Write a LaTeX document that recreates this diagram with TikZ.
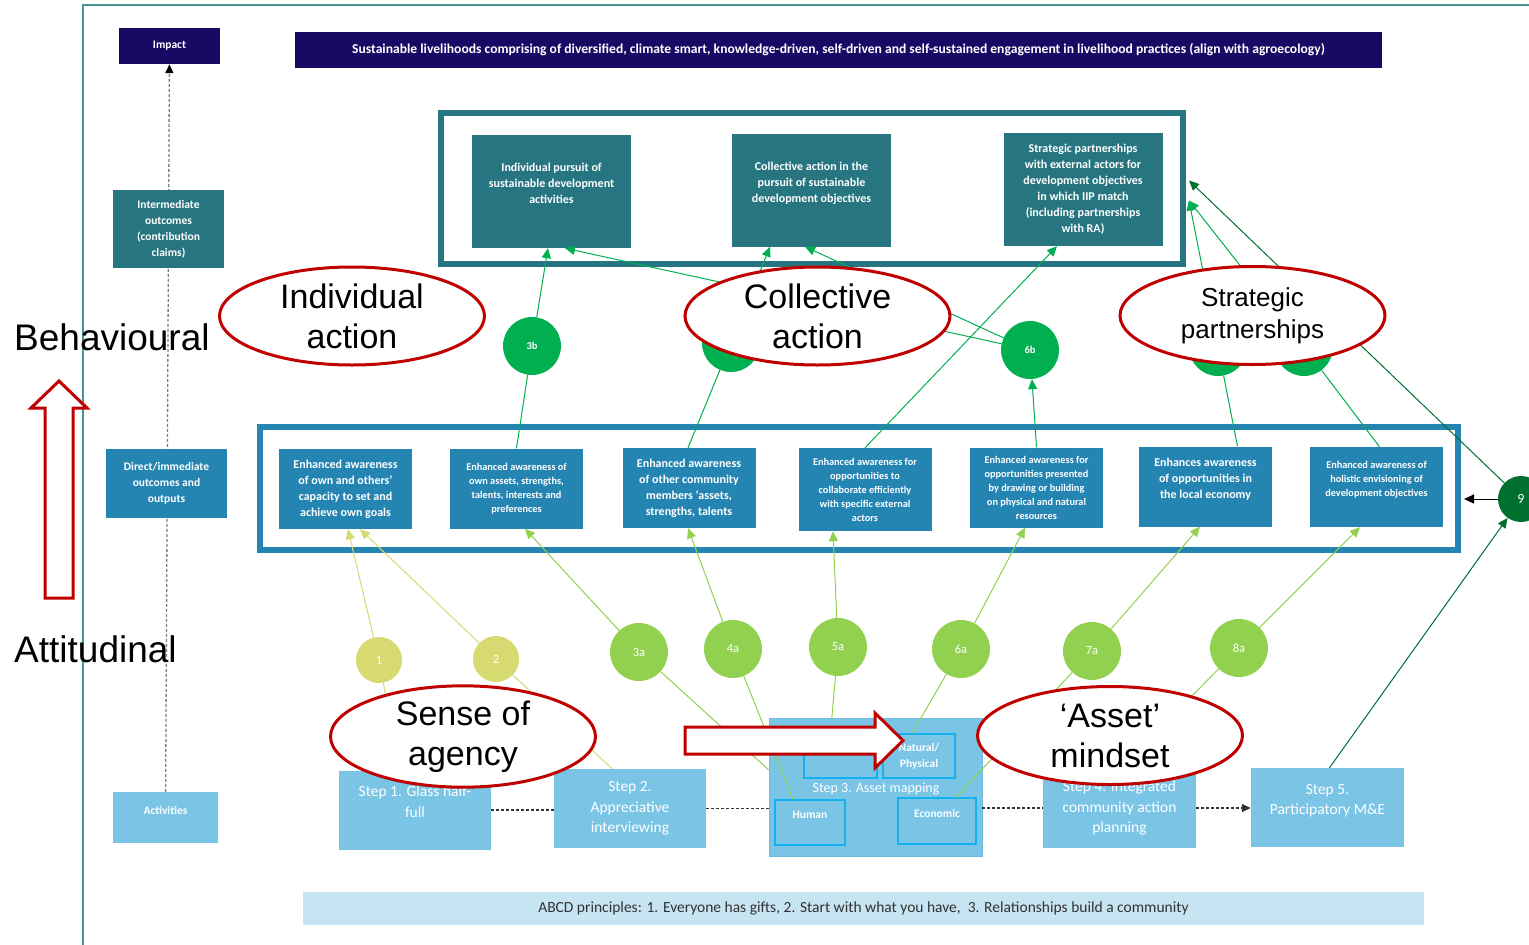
\documentclass[tikz,border=0pt]{standalone}
\usepackage{fontspec}
\setmainfont{Carlito}
\newfontfamily\arialfont{Liberation Sans}
\usetikzlibrary{arrows.meta,shapes.geometric}

\definecolor{iipnavy}{RGB}{23,10,100}
\definecolor{iipteal}{RGB}{38,117,128}
\definecolor{iipblue}{RGB}{37,133,178}
\definecolor{iiplight}{RGB}{122,196,230}
\definecolor{iipcyan}{RGB}{20,176,240}
\definecolor{iippale}{RGB}{198,228,242}
\definecolor{iipyellow}{RGB}{215,217,113}
\definecolor{iiplime}{RGB}{146,208,80}
\definecolor{iipgreen}{RGB}{0,176,80}
\definecolor{iipdark}{RGB}{0,112,47}
\definecolor{iipred}{RGB}{192,0,0}
\definecolor{iipline}{RGB}{70,150,150}

\pgfdeclarelayer{background}
\pgfsetlayers{background,main}

\tikzstyle{box}=[rectangle, inner sep=1pt, align=center, text=white]
\tikzstyle{navy box}=[box, fill=iipnavy]
\tikzstyle{level box}=[box, font=\fontsize{11.5}{16}\selectfont\bfseries]
\tikzstyle{top box}=[box, fill=iipteal, minimum width=159pt, minimum height=113pt, font=\fontsize{12}{16}\selectfont\bfseries]
\tikzstyle{mid box}=[box, fill=iipblue, minimum width=133pt, minimum height=80pt, font=\fontsize{12}{16}\selectfont\bfseries]
\tikzstyle{tight box}=[mid box, font=\fontsize{10.3}{14}\selectfont\bfseries]
\tikzstyle{step box}=[box, fill=iiplight, minimum width=152pt, minimum height=79pt, font=\fontsize{15.5}{20.5}\selectfont]
\tikzstyle{asset box}=[box, fill=iiplight, draw=iipcyan, line width=1.2pt, font=\fontsize{11.5}{16}\selectfont\bfseries]
\tikzstyle{frame box}=[draw, line width=6pt, inner sep=0pt]
\tikzstyle{claim}=[ellipse, draw=iipred, line width=3pt, fill=white, minimum width=265pt, minimum height=98pt, inner sep=0pt, align=center, font=\arialfont\fontsize{34}{40}\selectfont]
\tikzstyle{bubble}=[circle, inner sep=0pt, text=white]
\tikzstyle{yellow bubble}=[bubble, fill=iipyellow, minimum size=46pt, font=\fontsize{12.5}{13}\selectfont]
\tikzstyle{lime bubble}=[bubble, fill=iiplime, minimum size=58pt, font=\fontsize{12.5}{13}\selectfont]
\tikzstyle{green bubble}=[bubble, fill=iipgreen, minimum size=58pt, font=\fontsize{10.5}{11}\selectfont\bfseries]
\tikzstyle{link}=[draw, line width=1pt]
\tikzstyle{arrow link}=[link, -{Triangle[length=10pt,width=9pt]}]
\tikzstyle{step link}=[draw, black!80, line width=1.3pt, densely dashed]
\tikzstyle{level link}=[draw, gray, line width=1.3pt, densely dashed, -{Triangle[length=9pt,width=8pt,color=black]}]
\tikzstyle{block arrow}=[draw=iipred, line width=3pt, fill=white, line join=miter]

\def\lowdots{{(639,652)/n3a/3a}, {(733,649)/n4a/4a}, {(838,647)/n5a/5a}, {(961,649)/n6a/6a}, {(1092,651)/n7a/7a}, {(1239,648)/n8a/8a}}
\def\highdots{{(532,346)/n3b/3b}, {(1030,350)/n6b/6b}}
\def\groundlinks{s1/north/-15/0/n1/iipyellow, s2/north/-18/0/n2/iipyellow, s3/west/0/-17/n3a/iiplime, human/north/-17/0/n4a/iiplime, social/north/-10/0/n5a/iiplime, natural/north/-7/0/n6a/iiplime, economic/north/19/0/n7a/iiplime, s4/north/2/0/n8a/iiplime}
\def\directlinks{n1/m1/2.5/iipyellow, n2/m1/14.5/iipyellow, n3a/m2/8.5/iiplime, n4a/m3/-1/iiplime, n5a/m4/-32/iiplime, n6a/m5/-11.5/iiplime, n7a/m6/-5.5/iiplime, n8a/m7/-16.5/iiplime}

\begin{document}
\begin{tikzpicture}[x=1pt, y=-1pt]
  \useasboundingbox (0,0) rectangle (1529,945);

  % Outer frame
  \draw[iipline, line width=1.2pt] (83,945) -- (83,5) -- (1529,5);

  % Levels on the left
  \node[navy box, level box, minimum width=101pt, minimum height=36pt] (impact) at (169.5,46) {Impact};
  \node[level box, fill=iipteal, minimum width=111pt, minimum height=78pt] (inter) at (168.5,229) {Intermediate\\outcomes\\(contribution\\claims)};
  \node[level box, fill=iipblue, minimum width=121pt, minimum height=69pt] (direct) at (166.5,483.5) {Direct/immediate\\outcomes and\\outputs};
  \node[level box, fill=iiplight, minimum width=105pt, minimum height=51pt, text depth=15pt] (activ) at (165.5,817.5) {Activities};

  \begin{pgfonlayer}{background}
    \path[level link] (activ) -- (impact);
  \end{pgfonlayer}

  \node[anchor=base west, inner sep=0pt, font=\arialfont\fontsize{37}{40}\selectfont] (behav) at (14,350) {Behavioural};
  \node[anchor=base west, inner sep=0pt, font=\arialfont\fontsize{37}{40}\selectfont] (attit) at (14,662) {Attitudinal};

  % Impact
  \node[navy box, minimum width=1087pt, minimum height=36pt, font=\fontsize{13.6}{15}\selectfont\bfseries] (goal) at (838.5,50) {Sustainable livelihoods comprising of diversified, climate smart, knowledge-driven, self-driven and self-sustained engagement in livelihood practices (align with agroecology)};

  % Intermediate outcomes
  \node[frame box, draw=iipteal, minimum width=742pt, minimum height=151pt] (topfr) at (812,188.5) {};
  \node[top box, text depth=16pt] (t1) at (551.5,191.5) {Individual pursuit of\\sustainable development\\activities};
  \node[top box, text depth=16pt] (t2) at (811.5,190) {Collective action in the\\pursuit of sustainable\\development objectives};
  \node[top box] (t3) at (1083,189.5) {Strategic partnerships\\with external actors for\\development objectives\\in which IIP match\\(including partnerships\\with RA)};

  % Direct outcomes
  \node[frame box, draw=iipblue, minimum width=1198pt, minimum height=123pt] (midfr) at (859,488.5) {};
  \node[mid box] (m1) at (345.5,489) {Enhanced awareness\\of own and others’\\capacity to set and\\achieve own goals};
  \node[tight box] (m2) at (516.5,488.5) {Enhanced awareness of\\own assets, strengths,\\talents, interests and\\preferences};
  \node[mid box] (m3) at (689,488) {Enhanced awareness\\of other community\\members ‘assets,\\strengths, talents};
  \node[tight box, minimum height=83pt] (m4) at (865,489.5) {Enhanced awareness for\\opportunities to\\collaborate efficiently\\with specific external\\actors};
  \node[tight box] (m5) at (1036.5,487.5) {Enhanced awareness for\\opportunities presented\\by drawing or building\\on physical and natural\\resources};
  \node[mid box, text depth=16pt] (m6) at (1205.5,486.5) {Enhances awareness\\of opportunities in\\the local economy};
  \node[tight box, text depth=17pt] (m7) at (1376.5,487) {Enhanced awareness of\\holistic envisioning of\\development objectives};

  % Activities
  \node[step box, text depth=17pt] (s1) at (415,810) {Step 1. Glass half-\\full};
  \node[step box] (s2) at (630,808.5) {Step 2.\\Appreciative\\interviewing};
  \node[box, fill=iiplight, draw=iiplight!85!iipblue, minimum width=213pt, minimum height=138pt] (s3) at (875.5,787) {};
  \node[box, font=\fontsize{14}{16}\selectfont] (s3lab) at (876,789) {Step 3. Asset mapping};
  \node[asset box, minimum width=73pt, minimum height=44pt] (social) at (840.5,756) {};
  \node[asset box, minimum width=72pt, minimum height=44pt] (natural) at (919,756) {Natural/\\Physical};
  \node[asset box, minimum width=70pt, minimum height=45pt, text depth=15pt] (human) at (810,822.5) {Human};
  \node[asset box, minimum width=78pt, minimum height=46pt, text depth=15pt] (economic) at (937,821) {Economic};
  \node[step box, minimum width=153pt, minimum height=80pt] (s4) at (1119.5,808) {Step 4. Integrated\\community action\\planning};
  \node[step box, minimum width=153pt, text depth=16pt] (s5) at (1327.5,807.5) {Step 5.\\Participatory M\&E};

  \node[box, fill=iippale, text=black!80, minimum width=1121pt, minimum height=33pt, font=\fontsize{15.5}{17}\selectfont] (abcd) at (863.5,908.5) {ABCD principles: 1. Everyone has gifts, 2. Start with what you have,\ \ 3. Relationships build a community};

  % Links between the steps
  \path[step link] (s1.east) -- (s1.east -| s2.west);
  \path[step link] (s2.east) -- (s2.east -| s3.west);
  \path[step link] (s4.west -| s3.east) -- (s4.west);
  \path[step link, -{Triangle[length=9pt,width=8pt]}] (s4.east) -- (s4.east -| s5.west);

  % The numbered contributions
  \node[yellow bubble] (n1) at (379,660) {1};
  \node[yellow bubble] (n2) at (496,659) {2};
  \foreach \pos/\name/\num in \lowdots {
    \node[lime bubble] (\name) at \pos {\num};
  }
  \foreach \pos/\name/\num in \highdots {
    \node[green bubble] (\name) at \pos {\num};
  }
  \foreach \pos/\name in {{(731,343)/n4b}, {(1218,347)/n7b}, {(1304,347)/n8b}} {
    \node[green bubble] (\name) at \pos {};
  }
  \node[bubble, fill=iipdark, minimum size=46pt, font=\fontsize{14}{14}\selectfont] (n9) at (1521,499) {9};

  % From the activities to the direct outcomes
  \foreach \src/\anc/\dx/\dy/\dst/\col in \groundlinks
    \path[link, draw=\col] ([shift={(\dx,\dy)}]\src.\anc) -- (\dst);
  \foreach \src/\dst/\dx/\col in \directlinks
    \path[arrow link, draw=\col] (\src) -- ([shift={(\dx,0)}]\dst.south);

  % From the direct to the intermediate outcomes
  \foreach \src/\dx/\dst in {m2/0/n3b, m3/-1/n4b, m6/32/n7b, m7/3/n8b}
    \path[link, draw=iipgreen] ([shift={(\dx,0)}]\src.north) -- (\dst);
  \path[arrow link, draw=iipgreen] (m5.north) -- (n6b);
  \path[arrow link, draw=iipgreen] (m4.north) -- ([shift={(-26,0)}]t3.south);
  \foreach \src/\dst/\dx in {n3b/t1/-3.5, n4b/t2/-41.5, n6b/t1/13.5, n6b/t2/-6.5}
    \path[arrow link, draw=iipgreen] (\src) -- ([shift={(\dx,0)}]\dst.south);
  \foreach \src in {n7b, n8b}
    \path[arrow link, draw=iipgreen] (\src) -- ([shift={(3,12)}]topfr.east);

  % Contribution 9
  \path[arrow link, draw=iipdark] ([shift={(2,0)}]s5.north) -- (n9);
  \path[arrow link, draw=iipdark] (n9) -- ([shift={(3,-8)}]topfr.east);
  \path[arrow link, draw=black] (n9) -- ([xshift=3pt]n9 -| midfr.east);

  % Red call-outs
  \node[claim] (indiv) at (352,316) {Individual\\action};
  \node[claim] (collect) at (817.5,316) {Collective\\action};
  \node[claim, font=\arialfont\fontsize{26}{32}\selectfont] (strat) at (1252.5,315.5) {Strategic\\partnerships};
  \node[claim] (agency) at (463,736.5) {Sense of\\agency};
  \node[claim] (mindset) at (1110,735.5) {‘Asset’\\mindset};

  \path[block arrow] (45,598) -- (45,408) -- (31,408) -- (59,381) -- (87,408) -- (73,408) -- (73,598) -- cycle;
  \path[block arrow] (685,727) -- (875,727) -- (875,713) -- (903,740.5) -- (875,768) -- (875,754) -- (685,754) -- cycle;
\end{tikzpicture}
\end{document}
